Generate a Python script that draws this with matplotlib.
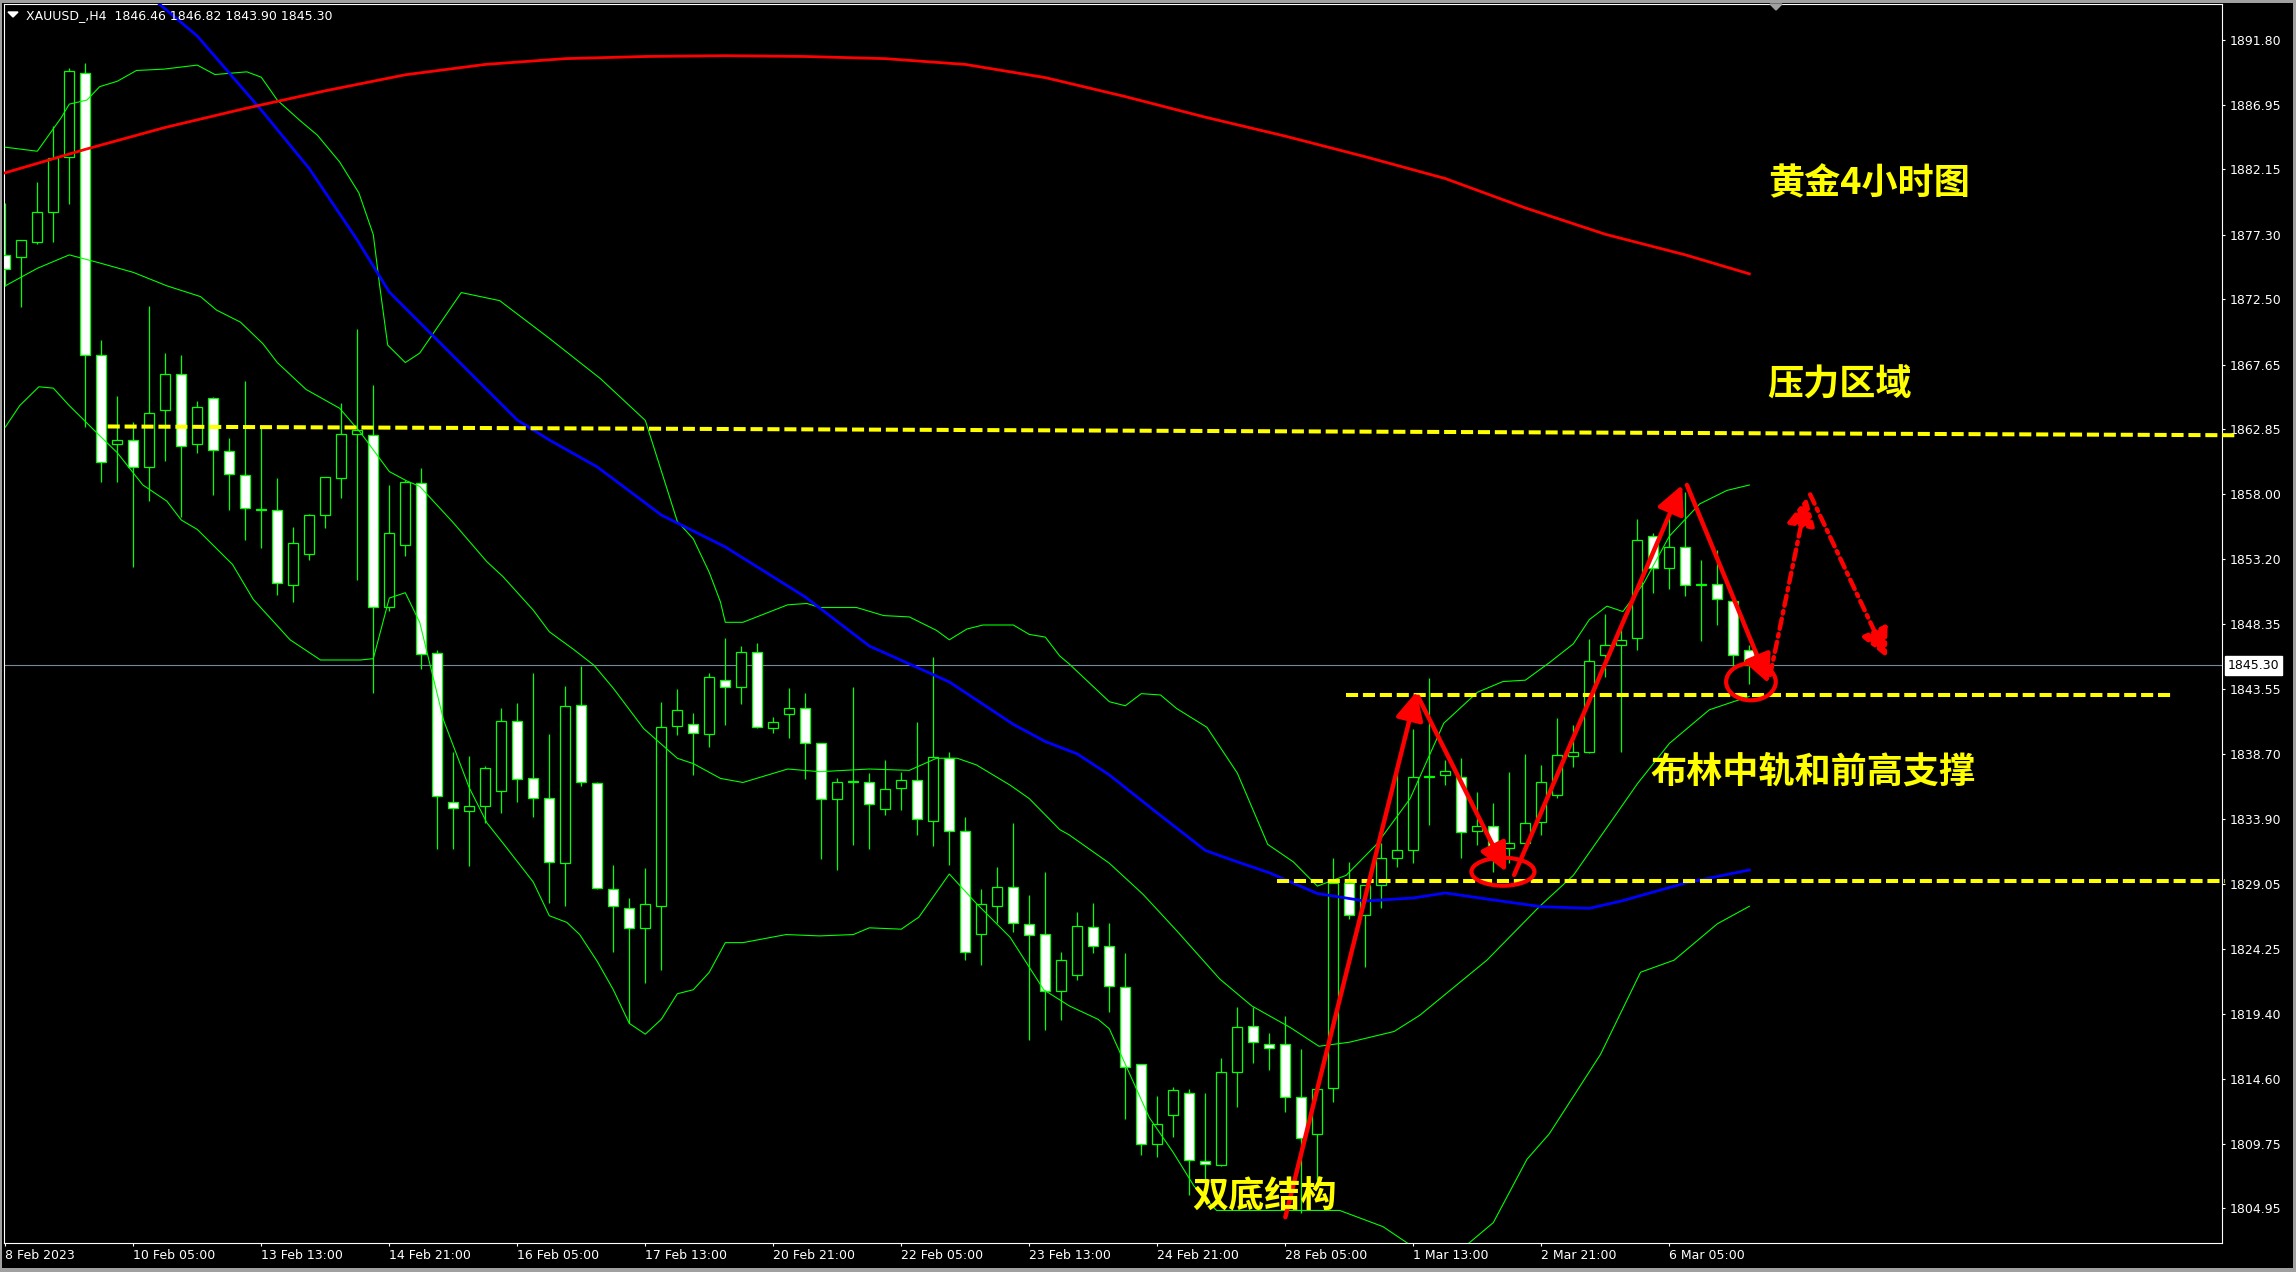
import matplotlib
matplotlib.use("Agg")
import matplotlib.pyplot as plt
from matplotlib.patches import Rectangle, Ellipse, Polygon
from matplotlib.transforms import blended_transform_factory

# ---------------- XAUUSD H4 bars ----------------
opens = [1875.76, 1875.63, 1876.72, 1878.95, 1883.06, 1889.35, 1868.34, 1861.78, 1862.02, 1860.03,
         1864.25, 1866.93, 1861.73, 1865.15, 1861.25, 1859.42, 1856.85, 1856.82, 1851.30, 1853.56,
         1856.47, 1859.23, 1862.50, 1862.44, 1849.63, 1854.22, 1858.83, 1846.20, 1835.18, 1834.45,
         1834.83, 1835.95, 1841.20, 1836.92, 1835.42, 1830.60, 1842.35, 1836.53, 1828.72, 1827.25,
         1825.78, 1827.45, 1840.79, 1840.91, 1840.23, 1844.25, 1843.68, 1846.26, 1840.61, 1841.66,
         1842.11, 1839.50, 1835.40, 1836.62, 1836.60, 1834.66, 1836.17, 1836.82, 1833.75, 1838.42,
         1833.02, 1825.31, 1827.44, 1828.81, 1826.11, 1825.31, 1821.10, 1822.26, 1825.84, 1824.44,
         1821.37, 1815.71, 1809.75, 1811.90, 1813.56, 1808.49, 1808.21, 1815.08, 1818.48, 1817.14,
         1817.14, 1813.22, 1810.47, 1813.90, 1829.16, 1826.73, 1828.96, 1830.96, 1831.59, 1837.00,
         1837.16, 1836.99, 1833.00, 1833.40, 1831.71, 1832.13, 1833.64, 1835.67, 1838.57, 1838.89,
         1846.08, 1846.82, 1847.31, 1854.94, 1852.51, 1854.12, 1851.30, 1851.35, 1850.11, 1846.46]
highs = [1879.69, 1876.88, 1881.20, 1885.37, 1889.69, 1890.04, 1869.48, 1865.31, 1863.37, 1872.00,
         1868.49, 1868.36, 1864.91, 1865.23, 1862.18, 1866.42, 1862.90, 1859.23, 1855.60, 1856.53,
         1859.29, 1864.80, 1870.27, 1866.13, 1858.71, 1859.10, 1859.95, 1846.43, 1838.85, 1838.56,
         1837.83, 1842.14, 1842.50, 1844.73, 1840.18, 1843.76, 1845.26, 1836.65, 1830.48, 1827.98,
         1830.25, 1842.61, 1843.55, 1841.73, 1844.73, 1847.32, 1846.75, 1846.98, 1841.46, 1843.62,
         1843.25, 1839.50, 1836.94, 1843.68, 1837.31, 1838.27, 1837.36, 1841.06, 1845.90, 1838.90,
         1834.01, 1828.69, 1830.31, 1833.58, 1828.24, 1829.94, 1824.00, 1826.98, 1827.61, 1826.15,
         1823.92, 1815.71, 1813.27, 1813.99, 1813.85, 1813.50, 1816.14, 1819.91, 1819.91, 1818.00,
         1819.23, 1816.79, 1813.79, 1830.96, 1830.68, 1828.99, 1832.10, 1837.89, 1840.60, 1844.34,
         1838.27, 1838.40, 1835.87, 1835.06, 1837.41, 1838.70, 1837.90, 1841.37, 1840.87, 1847.24,
         1849.12, 1848.43, 1856.16, 1855.10, 1856.30, 1858.21, 1853.13, 1853.88, 1850.30, 1846.82]
lows = [1873.46, 1871.94, 1876.60, 1876.77, 1879.61, 1863.03, 1858.92, 1858.94, 1852.63, 1857.54,
        1860.51, 1856.29, 1861.07, 1857.93, 1856.87, 1854.62, 1854.03, 1850.50, 1850.00, 1853.16,
        1855.52, 1857.70, 1851.62, 1843.26, 1849.34, 1853.40, 1845.02, 1831.66, 1831.66, 1830.42,
        1833.62, 1834.30, 1835.18, 1834.06, 1827.63, 1827.45, 1836.36, 1828.72, 1824.02, 1818.73,
        1821.67, 1822.70, 1840.09, 1837.18, 1839.26, 1840.89, 1842.43, 1840.63, 1840.29, 1839.92,
        1836.88, 1830.91, 1830.06, 1831.96, 1831.62, 1834.18, 1834.52, 1832.73, 1831.88, 1830.48,
        1823.38, 1823.06, 1826.13, 1825.51, 1817.49, 1818.23, 1818.97, 1821.95, 1823.92, 1819.57,
        1811.56, 1808.90, 1808.75, 1810.27, 1805.98, 1806.55, 1808.12, 1812.47, 1815.79, 1815.22,
        1812.13, 1804.62, 1807.07, 1812.85, 1826.44, 1822.86, 1827.30, 1830.30, 1830.65, 1833.45,
        1836.42, 1830.97, 1831.96, 1829.98, 1830.60, 1831.84, 1832.70, 1835.43, 1837.73, 1838.82,
        1844.42, 1838.89, 1846.45, 1850.71, 1850.95, 1850.46, 1847.14, 1848.30, 1844.96, 1843.90]
closes = [1874.75, 1876.88, 1878.95, 1883.01, 1889.43, 1868.36, 1860.40, 1862.05, 1860.03, 1864.04,
          1866.93, 1861.60, 1864.49, 1861.28, 1859.53, 1857.00, 1856.90, 1851.43, 1854.38, 1856.47,
          1859.29, 1862.50, 1862.76, 1849.63, 1855.10, 1858.92, 1846.14, 1835.59, 1834.68, 1834.83,
          1837.71, 1841.14, 1836.86, 1835.42, 1830.69, 1842.29, 1836.62, 1828.78, 1827.40, 1825.78,
          1827.54, 1840.70, 1841.97, 1840.26, 1844.41, 1843.68, 1846.26, 1840.69, 1841.06, 1842.11,
          1839.50, 1835.35, 1836.60, 1836.68, 1834.98, 1836.09, 1836.82, 1833.87, 1838.47, 1833.02,
          1823.97, 1827.56, 1828.81, 1826.13, 1825.25, 1821.10, 1823.38, 1825.92, 1824.44, 1821.49,
          1815.48, 1809.75, 1811.19, 1813.76, 1808.55, 1808.27, 1815.08, 1818.40, 1817.31, 1816.85,
          1813.22, 1810.18, 1813.79, 1829.16, 1826.73, 1828.99, 1830.96, 1831.56, 1837.03, 1837.09,
          1837.48, 1832.90, 1833.40, 1831.84, 1832.08, 1833.57, 1836.62, 1838.65, 1838.89, 1845.65,
          1846.79, 1847.19, 1854.62, 1852.56, 1854.12, 1851.28, 1851.38, 1850.21, 1846.08, 1845.30]

# ---------------- indicators (bar index, value) ----------------
bb_upper_bar = [0.0, 2.0, 3.5, 4.0, 5.1, 5.9, 7.0, 8.2, 9.9, 12.0, 13.1, 15.1, 16.0, 17.0, 18.4,
                19.5, 20.9, 22.1, 23.0, 23.4, 23.9, 25.0, 25.9, 28.5, 30.9, 34.0, 37.2, 40.0, 42.0,
                43.0, 44.0, 44.7, 45.0, 46.1, 48.9, 50.1, 50.9, 53.2, 54.9, 56.5, 58.2, 59.0, 60.1,
                61.1, 63.0, 64.0, 65.0, 65.9, 66.5, 69.0, 70.0, 71.0, 72.2, 73.2, 75.1, 77.0, 78.9,
                80.5, 82.0, 83.8, 85.7, 87.8, 89.9, 92.0, 93.6, 95.0, 96.5, 98.0, 99.0, 100.1, 101.1,
                102.4, 104.0, 105.9, 107.6, 109.0]
bb_upper = [1883.8, 1883.5, 1886.0, 1887.0, 1887.3, 1888.3, 1888.7, 1889.5, 1889.6, 1889.9, 1889.2,
            1889.4, 1889.0, 1887.3, 1885.8, 1884.7, 1882.7, 1880.4, 1877.3, 1873.5, 1869.1, 1867.8,
            1868.5, 1873.0, 1872.4, 1869.6, 1866.6, 1863.5, 1856.0, 1854.7, 1852.2, 1850.0, 1848.5,
            1848.5, 1849.8, 1849.9, 1849.6, 1849.6, 1849.0, 1848.9, 1847.9, 1847.2, 1848.0, 1848.3,
            1848.3, 1847.6, 1847.4, 1846.0, 1845.4, 1842.6, 1842.3, 1843.2, 1843.1, 1842.1, 1840.7,
            1837.3, 1832.0, 1830.7, 1828.9, 1829.7, 1832.0, 1835.4, 1841.0, 1843.3, 1844.1, 1844.2,
            1845.5, 1846.9, 1848.7, 1849.7, 1849.3, 1851.4, 1854.9, 1857.3, 1858.3, 1858.7]

bb_mid_bar = [0.0, 2.0, 4.0, 5.9, 8.0, 10.1, 12.2, 13.2, 14.7, 16.1, 17.0, 18.8, 20.9, 22.2, 24.0,
              25.1, 25.9, 28.0, 30.1, 31.1, 33.0, 34.0, 35.5, 36.8, 38.0, 39.9, 42.0, 43.0, 44.7,
              46.1, 48.9, 50.9, 54.0, 56.5, 58.2, 59.5, 60.7, 62.8, 64.0, 65.9, 66.5, 69.0, 71.1,
              73.2, 75.9, 77.9, 80.3, 82.1, 84.0, 86.8, 88.4, 92.6, 95.9, 98.0, 100.3, 102.0, 104.0,
              106.5, 109.0]
bb_mid = [1873.5, 1874.8, 1875.8, 1875.2, 1874.5, 1873.5, 1872.7, 1871.7, 1870.8, 1869.2, 1867.8,
          1865.8, 1864.4, 1862.6, 1859.7, 1859.0, 1858.6, 1855.9, 1853.0, 1851.9, 1849.4, 1847.8,
          1846.5, 1845.3, 1843.6, 1840.6, 1838.4, 1838.0, 1836.9, 1836.6, 1837.6, 1837.4, 1837.6,
          1837.5, 1838.4, 1838.4, 1837.9, 1836.4, 1835.4, 1833.1, 1832.7, 1830.6, 1828.3, 1825.6,
          1822.0, 1820.0, 1818.4, 1817.0, 1817.3, 1818.1, 1819.3, 1823.4, 1827.4, 1829.7, 1833.6,
          1836.5, 1839.5, 1842.0, 1843.0]

bb_lower_bar = [0.0, 0.9, 2.1, 3.0, 4.0, 5.7, 7.0, 8.6, 10.1, 11.0, 12.0, 14.2, 15.5, 17.8, 19.7,
                22.2, 23.0, 24.0, 25.0, 25.9, 27.4, 29.0, 30.1, 31.1, 33.0, 34.0, 35.1, 35.9, 37.0,
                38.0, 39.0, 40.0, 41.0, 42.0, 43.0, 44.0, 45.0, 46.1, 48.8, 50.9, 53.0, 54.0, 56.0,
                57.1, 59.0, 60.7, 62.8, 64.9, 66.5, 68.3, 69.0, 70.1, 71.5, 73.0, 74.3, 75.7, 78.4,
                83.4, 86.1, 87.6, 89.7, 91.5, 93.0, 95.1, 96.5, 99.7, 102.2, 104.3, 107.0, 109.0]
bb_lower = [1863.0, 1864.6, 1866.0, 1865.9, 1864.6, 1862.6, 1861.1, 1858.7, 1857.5, 1856.1, 1855.4,
            1852.8, 1850.2, 1847.2, 1845.7, 1845.7, 1845.8, 1850.3, 1850.7, 1848.5, 1841.2, 1836.2,
            1833.6, 1832.1, 1829.2, 1826.7, 1826.2, 1825.3, 1823.3, 1821.2, 1818.7, 1817.9, 1819.0,
            1820.9, 1821.2, 1822.5, 1824.7, 1824.7, 1825.3, 1825.2, 1825.3, 1825.8, 1825.7, 1826.6,
            1829.8, 1827.6, 1825.1, 1821.2, 1820.0, 1819.0, 1818.3, 1815.4, 1811.7, 1809.1, 1806.6,
            1804.8, 1804.8, 1804.8, 1803.6, 1802.4, 1801.0, 1802.4, 1803.9, 1808.6, 1810.5, 1816.4,
            1822.5, 1823.4, 1826.1, 1827.4]

ma_blue_bar = [9, 12, 16, 19, 22, 24, 26, 32, 34, 37, 39, 41, 45, 50, 54, 57, 59, 63, 65, 67, 69,
               72, 75, 77, 79, 82, 85, 88, 90, 93, 96, 99, 101, 105, 109]
ma_blue = [1895.07, 1892.06, 1886.56, 1882.21, 1876.90, 1873.04, 1870.66, 1863.53, 1862.05, 1860.04,
           1858.26, 1856.47, 1854.10, 1850.38, 1846.74, 1845.14, 1844.07, 1840.92, 1839.64, 1838.72,
           1837.16, 1834.33, 1831.55, 1830.70, 1829.89, 1828.35, 1827.79, 1828.02, 1828.39, 1827.87,
           1827.37, 1827.25, 1827.79, 1829.13, 1830.10]

ma_red_bar = [0, 5, 10, 15, 20, 25, 30, 35, 40, 45, 50, 55, 60, 65, 70, 75, 80, 85, 90, 95, 100,
              105, 109]
ma_red = [1881.90, 1883.64, 1885.27, 1886.68, 1887.99, 1889.18, 1889.95, 1890.38, 1890.54, 1890.60,
          1890.54, 1890.38, 1889.95, 1888.97, 1887.56, 1886.03, 1884.62, 1883.09, 1881.47, 1879.29,
          1877.33, 1875.80, 1874.39]

# ---------------- axis labels ----------------
price_ticks = [1891.80, 1886.95, 1882.15, 1877.30, 1872.50, 1867.65, 1862.85, 1858.00, 1853.20,
               1848.35, 1843.55, 1838.70, 1833.90, 1829.05, 1824.25, 1819.40, 1814.60, 1809.75,
               1804.95]
time_tick_bars = [0, 8, 16, 24, 32, 40, 48, 56, 64, 72, 80, 88, 96, 104]
time_tick_labels = ["8 Feb 2023", "10 Feb 05:00", "13 Feb 13:00", "14 Feb 21:00", "16 Feb 05:00",
                    "17 Feb 13:00", "20 Feb 21:00", "22 Feb 05:00", "23 Feb 13:00", "24 Feb 21:00",
                    "28 Feb 05:00", "1 Mar 13:00", "2 Mar 21:00", "6 Mar 05:00"]
symbol = "XAUUSD_,H4"
last_bar = (1846.46, 1846.82, 1843.90, 1845.30)

# ---------------- drawn analysis ----------------
resistance_line = [(6.4, 1863.05), (139.4, 1862.40)]
support_upper = [(83.8, 1843.10), (135.5, 1843.10)]
support_lower = [(79.5, 1829.25), (138.7, 1829.25)]
solid_arrows = [((80.0, 1804.3), (88.2, 1843.35)),
                ((88.3, 1842.97), (93.8, 1829.97)),
                ((94.3, 1829.73), (104.8, 1858.70)),
                ((105.1, 1858.70), (110.2, 1843.97))]
dashdot_arrows = [((110.3, 1844.59), (112.6, 1857.81)),
                  ((112.8, 1858.00), (117.6, 1845.87))]
rings = [((93.6, 1829.97), 3.94, 2.08), ((109.1, 1844.08), 3.1, 2.75)]
notes = [("黄金4小时图", 110.2, 1881.06), ("压力区域", 110.1, 1866.13),
         ("布林中轨和前高支撑", 102.8, 1837.38), ("双底结构", 74.2, 1805.8)]

GREEN = "#00FF00"
RED = "#FF0000"
YELLOW = "#FFFF00"
W, H = 2296, 1272

fig = plt.figure(figsize=(W / 100, H / 100), dpi=100, facecolor="black")
ax = fig.add_axes([4 / W, 1 - 1242.5 / H, (2222 - 4) / W, (1242.5 - 4) / H])
ax.set_facecolor("black")
ax.set_xlim(-0.08, 138.54)
ax.set_ylim(1802.42, 1894.44)

# last price line
ax.axhline(last_bar[3], color="#778899", lw=0.8, zorder=1)

# candles
body_w = 0.62
for i, (o, h, l, c) in enumerate(zip(opens, highs, lows, closes)):
    ax.vlines(i, l, h, color=GREEN, lw=0.9, zorder=2)
    face = "black" if c >= o else "white"
    ax.add_patch(Rectangle((i - body_w / 2, min(o, c)), body_w, abs(c - o),
                           facecolor=face, edgecolor=GREEN, lw=0.9, zorder=3))

# indicators
for xs, ys in [(bb_upper_bar, bb_upper), (bb_mid_bar, bb_mid), (bb_lower_bar, bb_lower)]:
    ax.plot(xs, ys, color=GREEN, lw=0.8, zorder=4)
ax.plot(ma_blue_bar, ma_blue, color="#0000FF", lw=2.0, zorder=4)
ax.plot(ma_red_bar, ma_red, color=RED, lw=2.0, zorder=4)

# horizontal levels
for seg in (resistance_line, support_upper, support_lower):
    ax.plot([seg[0][0], seg[1][0]], [seg[0][1], seg[1][1]], color=YELLOW, lw=2.9,
            dashes=(3.0, 1.2), solid_capstyle="butt", dash_capstyle="butt",
            clip_on=False, zorder=6)

# arrows
for p0, p1 in solid_arrows:
    ax.annotate("", xy=p1, xytext=p0, zorder=7,
                arrowprops=dict(arrowstyle="-|>,head_length=0.85,head_width=0.42",
                                mutation_scale=20, color=RED, lw=3.2,
                                shrinkA=0, shrinkB=0))
for p0, p1 in dashdot_arrows:
    ax.annotate("", xy=p1, xytext=p0, zorder=7,
                arrowprops=dict(arrowstyle="-|>,head_length=0.85,head_width=0.42",
                                mutation_scale=20, color=RED, lw=3.2,
                                linestyle=(0, (2.3, 1.2, 0.6, 1.2)),
                                shrinkA=0, shrinkB=0))
for (cx, cy), w, h in rings:
    ax.add_patch(Ellipse((cx, cy), w, h, fill=False, edgecolor=RED, lw=3.0, zorder=7))

cjk = ["Noto Sans CJK SC", "DejaVu Sans"]
for s, x, y in notes:
    ax.text(x, y, s, color=YELLOW, fontsize=26, fontweight="bold", family=cjk,
            ha="left", va="center", zorder=8)

# axes styling
for sp in ax.spines.values():
    sp.set_color("white")
    sp.set_linewidth(0.8)
ax.yaxis.tick_right()
ax.set_yticks(price_ticks)
ax.set_yticklabels([f"{p:.2f}" for p in price_ticks])
ax.set_xticks(time_tick_bars)
ax.set_xticklabels(time_tick_labels)
ax.tick_params(axis="y", colors="white", direction="out", length=2.2, width=0.8,
               labelsize=9, pad=3.5)
ax.tick_params(axis="x", colors="white", direction="out", length=2.5, width=0.8,
               labelsize=9, pad=2.5)
for lbl in ax.get_xticklabels():
    lbl.set_horizontalalignment("left")

# last price tag on the price scale
tr = blended_transform_factory(ax.transAxes, ax.transData)
ax.text(1.0027, last_bar[3], f"{last_bar[3]:.2f}", transform=tr, ha="left", va="center",
        fontsize=9, color="black", clip_on=False, zorder=9,
        bbox=dict(boxstyle="square,pad=0.22", fc="white", ec="white"))

# header
fig.text(26 / W, 1 - 16 / H, f"{symbol}  " + " ".join(f"{v:.2f}" for v in last_bar),
         color="white", fontsize=9, ha="left", va="center")
fig.add_artist(Polygon([(8 / W, 1 - 12 / H), (18 / W, 1 - 12 / H), (13 / W, 1 - 17 / H)],
                       closed=True, color="white", transform=fig.transFigure))
fig.add_artist(Polygon([(1770 / W, 1 - 4 / H), (1782 / W, 1 - 4 / H), (1776 / W, 1 - 10 / H)],
                       closed=True, color="#a0a0a0", transform=fig.transFigure))

# window frame
frame = "#a0a0a0"
for x0, y0, w, h in [(0, 0, W, 3), (0, 0, 2, H), (W - 3, 0, 3, H), (0, H - 4, W, 4)]:
    fig.add_artist(Rectangle((x0 / W, 1 - (y0 + h) / H), w / W, h / H, color=frame,
                             transform=fig.transFigure, lw=0))

fig.savefig("out.png", dpi=100, facecolor="black")
